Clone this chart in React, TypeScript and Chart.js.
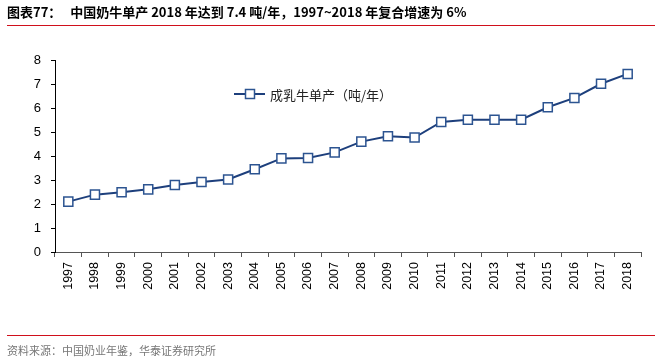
import React, { useEffect, useRef } from "react";
import { Chart, registerables } from "chart.js";

Chart.register(...registerables);

// Annual milk yield per dairy cow, tonnes/year
const years = [
  "1997", "1998", "1999", "2000", "2001", "2002", "2003", "2004", "2005", "2006", "2007",
  "2008", "2009", "2010", "2011", "2012", "2013", "2014", "2015", "2016", "2017", "2018",
];
const yieldPerCow = [
  2.1, 2.39, 2.49, 2.61, 2.79, 2.92, 3.02, 3.45, 3.9, 3.92, 4.15,
  4.6, 4.82, 4.77, 5.42, 5.51, 5.51, 5.51, 6.03, 6.42, 7.01, 7.42,
];
const yTicks = [0, 1, 2, 3, 4, 5, 6, 7, 8];

const seriesLabel = "成乳牛单产（吨/年）";
const titleLead = "图表77：";
const titleText = "中国奶牛单产 2018 年达到 7.4 吨/年，1997~2018 年复合增速为 6%";
const sourceText = "资料来源：中国奶业年鉴，华泰证券研究所";

const LINE = "#1d3f7c";
const MARKER_EDGE = "#2c5491";
const RULE = "#d0101c";
const CJK = '"Noto Sans CJK SC", "Liberation Sans", Arial, sans-serif';
const LATIN = '"Liberation Sans", Arial, "Noto Sans CJK SC", sans-serif';

// Legend drawn inside the plot, to the left of centre
const insideLegend = {
  id: "insideLegend",
  afterDraw(chart: Chart) {
    const { ctx } = chart;
    const y = 94;
    ctx.save();
    ctx.strokeStyle = LINE;
    ctx.lineWidth = 2;
    ctx.beginPath();
    ctx.moveTo(234, y);
    ctx.lineTo(265, y);
    ctx.stroke();
    ctx.fillStyle = "#ffffff";
    ctx.strokeStyle = MARKER_EDGE;
    ctx.lineWidth = 1.5;
    ctx.fillRect(245.5, y - 4.5, 9, 9);
    ctx.strokeRect(245.5, y - 4.5, 9, 9);
    ctx.fillStyle = "#222";
    ctx.font = `13px ${CJK}`;
    ctx.textBaseline = "middle";
    ctx.fillText(seriesLabel, 270, y + 1);
    ctx.restore();
  },
};

export default function App() {
  const canvasRef = useRef<HTMLCanvasElement | null>(null);

  useEffect(() => {
    document.body.style.margin = "0";
    const canvas = canvasRef.current;
    if (!canvas) return;
    const chart = new Chart(canvas, {
      type: "line",
      data: {
        labels: years,
        datasets: [
          {
            label: seriesLabel,
            data: yieldPerCow,
            borderColor: LINE,
            borderWidth: 2,
            pointStyle: "rect",
            pointRadius: 6.4,
            pointBackgroundColor: "#ffffff",
            pointBorderColor: MARKER_EDGE,
            pointBorderWidth: 1.5,
            tension: 0,
          },
        ],
      },
      options: {
        animation: false,
        responsive: false,
        maintainAspectRatio: false,
        layout: { padding: { top: 60, left: 10, right: 20, bottom: 64 } },
        plugins: {
          legend: { display: false },
          tooltip: { enabled: false },
          title: { display: false },
        },
        scales: {
          x: {
            type: "category",
            offset: true,
            afterFit: (s: any) => {
              s.height = 45;
            },
            grid: {
              offset: true,
              drawOnChartArea: false,
              drawTicks: true,
              tickLength: 5,
              color: "#555",
            },
            border: { display: true, color: "#555", width: 1 },
            ticks: {
              autoSkip: false,
              maxRotation: 90,
              minRotation: 90,
              padding: 5,
              color: "#000",
              font: { family: LATIN, size: 12.5 },
            },
          },
          y: {
            min: 0,
            max: 8,
            afterFit: (s: any) => {
              s.width = 45;
            },
            afterBuildTicks: (s: any) => {
              s.ticks = yTicks.map((v) => ({ value: v }));
            },
            grid: {
              drawOnChartArea: false,
              drawTicks: true,
              tickLength: 4,
              color: "#000",
            },
            border: { display: true, color: "#000", width: 1 },
            ticks: {
              padding: 10,
              color: "#000",
              font: { family: LATIN, size: 13 },
            },
          },
        },
      },
      plugins: [insideLegend],
    });
    return () => chart.destroy();
  }, []);

  return (
    <div style={{ position: "absolute", left: 0, top: 0, width: 661, height: 361, background: "#fff", overflow: "hidden" }}>
      <canvas ref={canvasRef} width={661} height={361} style={{ position: "absolute", left: 0, top: 0, width: 661, height: 361 }} />
      <div
        style={{
          position: "absolute",
          left: 7,
          top: 4,
          fontFamily: CJK,
          fontWeight: 700,
          fontSize: 13,
          lineHeight: "16px",
          color: "#000",
          whiteSpace: "pre",
        }}
      >
        {titleLead + "   " + titleText}
      </div>
      <div style={{ position: "absolute", left: 7, top: 25, width: 648, height: 1, background: RULE }} />
      <div style={{ position: "absolute", left: 7, top: 335, width: 648, height: 1, background: RULE }} />
      <div
        style={{
          position: "absolute",
          left: 7,
          top: 343,
          fontFamily: CJK,
          fontSize: 11,
          lineHeight: "14px",
          color: "#777",
          whiteSpace: "pre",
        }}
      >
        {sourceText}
      </div>
    </div>
  );
}
